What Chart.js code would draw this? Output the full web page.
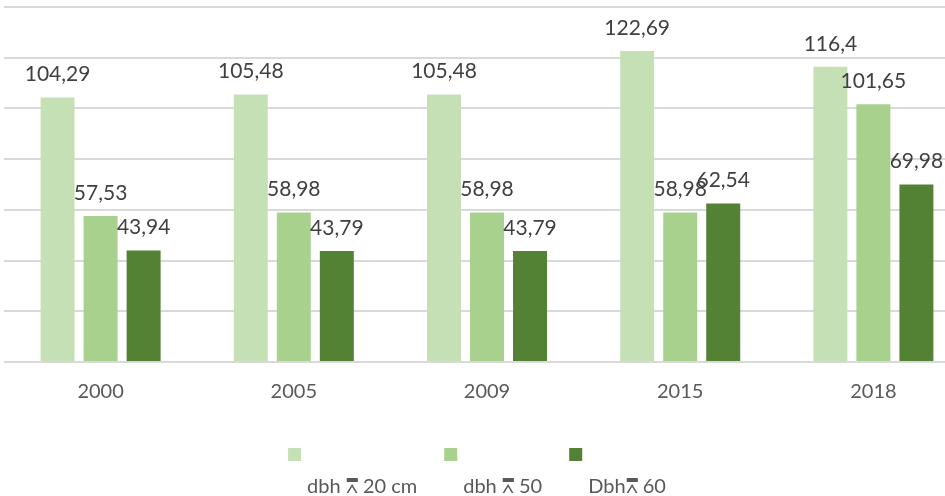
<!DOCTYPE html>
<html>
<head>
<meta charset="utf-8">
<script src="https://cdn.jsdelivr.net/npm/chart.js@4"></script>
<style>
  html, body { margin: 0; padding: 0; background: #fff; overflow: hidden; }
  #wrap { width: 975px; height: 496px; }
</style>
</head>
<body>
<div id="wrap"><canvas id="chart"></canvas></div>
<script>
var years = ["2000", "2005", "2009", "2015", "2018"];
var seriesNames = ["dbh \u2A5E 20 cm", "dbh \u2A5E 50", "Dbh\u2A5E 60"];
var dbh20 = [104.29, 105.48, 105.48, 122.69, 116.4];
var dbh50 = [57.53, 58.98, 58.98, 58.98, 101.65];
var dbh60 = [43.94, 43.79, 43.79, 62.54, 69.98];
var colors = ["#C5E0B4", "#A9D18E", "#548235"];
var fontFamily = "Lato, 'Open Sans', sans-serif";

// value labels above each bar, comma decimals
var valueLabels = {
  id: "valueLabels",
  afterDatasetsDraw: function (chart) {
    var ctx = chart.ctx;
    ctx.save();
    ctx.font = "21px " + fontFamily;
    ctx.fillStyle = "#404040";
    ctx.textAlign = "center";
    ctx.textBaseline = "middle";
    chart.data.datasets.forEach(function (ds, i) {
      chart.getDatasetMeta(i).data.forEach(function (bar, j) {
        var txt = String(ds.data[j]).replace(".", ",");
        ctx.fillText(txt, bar.x, bar.y - 23);
      });
    });
    ctx.restore();
  },
};

// legend with the box sitting above its text
var boxLegend = {
  id: "boxLegend",
  afterDraw: function (chart) {
    var ctx = chart.ctx;
    var area = chart.chartArea;
    ctx.save();
    ctx.font = "20px " + fontFamily;
    var box = 13, pad = 6, gap = 27;
    var widths = chart.data.datasets.map(function (ds) {
      return box + pad + ctx.measureText(ds.label).width;
    });
    var total = widths.reduce(function (a, b) { return a + b; }, 0) + gap * (widths.length - 1);
    var x = (area.left + area.right) / 2 - total / 2 - 10;
    chart.data.datasets.forEach(function (ds, i) {
      ctx.fillStyle = ds.backgroundColor;
      ctx.fillRect(x, 448, box, box);
      ctx.fillStyle = "#595959";
      ctx.textBaseline = "middle";
      ctx.textAlign = "left";
      ctx.fillText(ds.label, x + box + pad, 487);
      x += widths[i] + gap;
    });
    ctx.restore();
  },
};

var ctx = document.getElementById("chart").getContext("2d");
var myChart = new Chart(ctx, {
  type: "bar",
  data: {
    labels: years,
    datasets: [
      { label: seriesNames[0], data: dbh20, backgroundColor: colors[0] },
      { label: seriesNames[1], data: dbh50, backgroundColor: colors[1] },
      { label: seriesNames[2], data: dbh60, backgroundColor: colors[2] },
    ],
  },
  options: {
    responsive: true,
    maintainAspectRatio: false,
    animation: false,
    categoryPercentage: 0.668,
    barPercentage: 0.79,
    layout: { padding: { top: 7, left: 4, right: 5, bottom: 82 } },
    scales: {
      x: {
        grid: { display: false },
        border: { display: false },
        ticks: { color: "#595959", font: { size: 20, family: fontFamily }, padding: 10 },
      },
      y: {
        min: 0,
        max: 140,
        ticks: { stepSize: 20, display: false },
        border: { display: false },
        grid: { color: "#D9D9D9", lineWidth: 2, drawTicks: false },
      },
    },
    plugins: {
      legend: { display: false },
      tooltip: { enabled: false },
    },
  },
  plugins: [valueLabels, boxLegend],
});
</script>
</body>
</html>
